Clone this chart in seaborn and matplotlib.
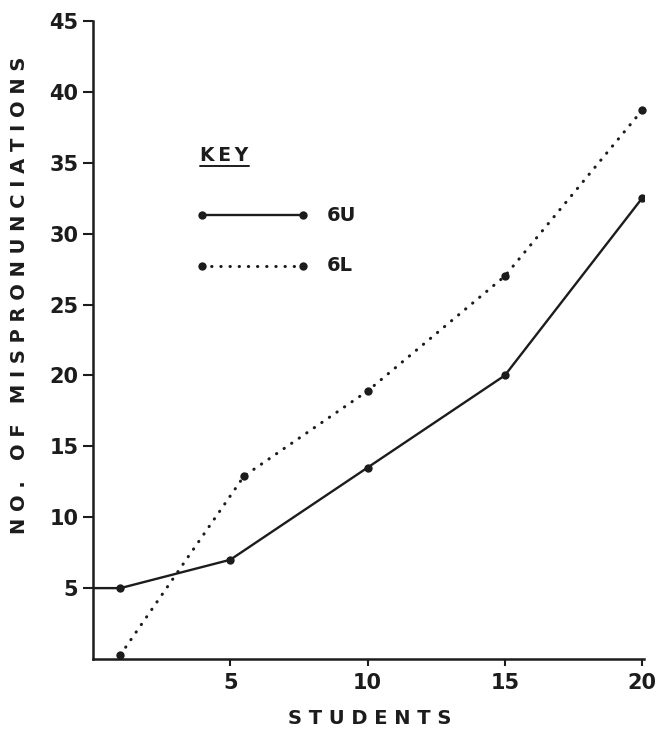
import matplotlib
matplotlib.use("Agg")
import matplotlib.pyplot as plt
import seaborn as sns
import pandas as pd

# Mispronunciation counts by student for the two groups
students_6u = [0, 1, 5, 10, 15, 20]
errors_6u = [5.0, 5.0, 7.0, 13.5, 20.0, 32.5]
students_6l = [1, 5.5, 10, 15, 20]
errors_6l = [0.3, 12.9, 18.9, 27.0, 38.7]

x_ticks = [5, 10, 15, 20]
y_ticks = [5, 10, 15, 20, 25, 30, 35, 40, 45]

df_u = pd.DataFrame({"students": students_6u, "errors": errors_6u})
df_l = pd.DataFrame({"students": students_6l, "errors": errors_6l})

sns.set_style("ticks")
plt.rcParams["font.family"] = ["DejaVu Sans"]
ink = "#1c1c1c"

fig = plt.figure(figsize=(6.66, 7.37), dpi=100)
fig.patch.set_facecolor("white")
ax = fig.add_axes([93 / 666, 1 - 659 / 737, 551 / 666, 638 / 737])
ax.set_facecolor("white")

# 6U: solid line, markers on the measured students only
sns.lineplot(data=df_u, x="students", y="errors", ax=ax, color=ink,
             linewidth=1.7, marker="o", markersize=6, markeredgewidth=0,
             markevery=list(range(1, len(students_6u))), sort=False)
# 6L: dotted line
sns.lineplot(data=df_l, x="students", y="errors", ax=ax, color=ink,
             linewidth=2.2, linestyle=(0, (0.1, 2.9)), dash_capstyle="round",
             marker="o", markersize=6, markeredgewidth=0, sort=False)
ax.lines[-1].set_clip_on(False)

ax.set_xlim(0, 20.07)
ax.set_ylim(0, 45)
ax.set_xticks(x_ticks)
ax.set_yticks(y_ticks)
ax.set_xlabel("")
ax.set_ylabel("")
sns.despine(ax=ax)
for s in ("left", "bottom"):
    ax.spines[s].set_linewidth(1.8)
    ax.spines[s].set_color(ink)
ax.tick_params(axis="y", length=7, width=1.5, pad=3.5, labelsize=15,
               colors=ink)
ax.tick_params(axis="x", length=5, width=1.5, pad=5, labelsize=15,
               colors=ink)
for lab in ax.get_xticklabels() + ax.get_yticklabels():
    lab.set_fontweight("bold")

# Key
kx0, kx1 = 3.98, 7.66
ax.text(3.9, 35.5, "K\u2009E\u2009Y", fontsize=13.5, fontweight="bold",
        color=ink, va="center", ha="left")
ax.plot([3.9, 5.7], [34.75, 34.75], color=ink, linewidth=1.4)
ax.plot([kx0, kx1], [31.3, 31.3], color=ink, linewidth=1.7,
        marker="o", markersize=6, markeredgewidth=0)
ax.plot([kx0, kx1], [27.75, 27.75], color=ink, linewidth=2.2,
        linestyle=(0, (0.1, 2.9)), dash_capstyle="round",
        marker="o", markersize=6, markeredgewidth=0)
ax.text(8.5, 31.3, "6U", fontsize=14, fontweight="bold", color=ink,
        va="center", ha="left")
ax.text(8.5, 27.75, "6L", fontsize=14, fontweight="bold", color=ink,
        va="center", ha="left")

fig.text(20 / 666, 1 - 295 / 737, "N O .   O F   M I S P R O N U N C I A T I O N S",
         rotation=90, ha="center", va="center", fontsize=14,
         fontweight="bold", color=ink)
fig.text(370 / 666, 1 - 719 / 737, "S T U D E N T S",
         ha="center", va="center", fontsize=14, fontweight="bold", color=ink)

fig.savefig("out.png", dpi=100)
